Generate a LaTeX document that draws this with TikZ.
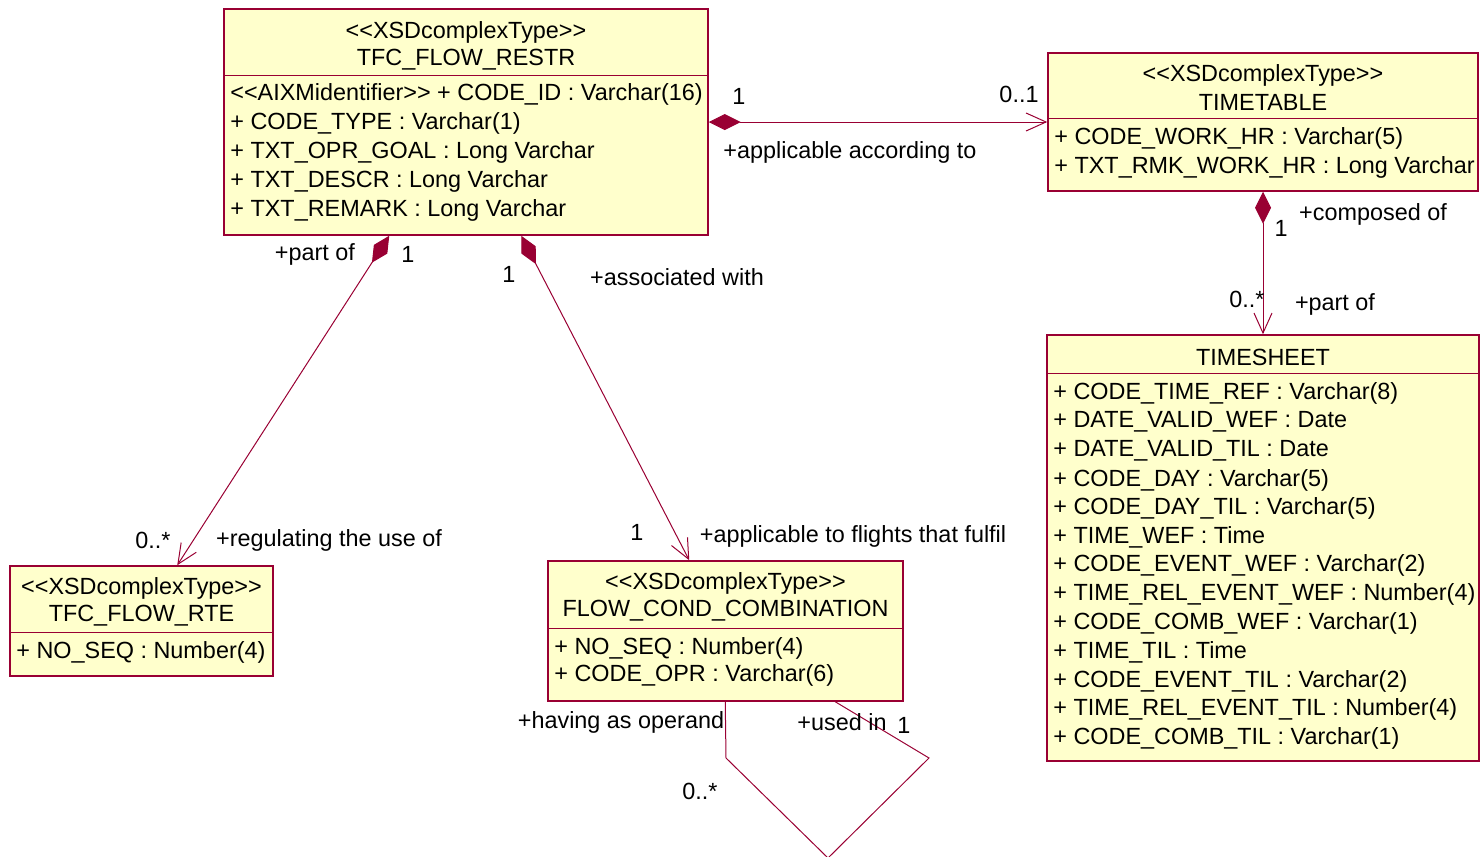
\documentclass[tikz,border=0pt]{standalone}
\usepackage{fontspec}
\setmainfont{Liberation Sans}
\usetikzlibrary{arrows.meta,calc}
\definecolor{umlred}{HTML}{990033}
\definecolor{umlfill}{HTML}{FFFFCC}
\newcommand{\stl}{<{}<}
\newcommand{\str}{>{}>}
\begin{document}
\begin{tikzpicture}[x=0.5pt,y=-0.5pt,
 every node/.style={font=\fontsize{11.7}{14}\selectfont, inner sep=0pt, text=black},
 txt/.style={yshift=-1pt},
 cls/.style={draw=umlred, fill=umlfill, line width=0.75pt, rectangle, inner sep=0pt},
 attr/.style={txt, anchor=west},
 sepline/.style={draw=umlred, line width=0.5pt},
 assoc/.style={draw=umlred, line width=0.5pt},
 comp/.style={assoc, {Diamond[length=16pt,width=8pt,fill=umlred]}-{Straight Barb[length=10pt,width=9pt]}},
 ]
\useasboundingbox (0,0) rectangle (1480,857);

% ---------- classes ----------
\node[cls, minimum width=242pt, minimum height=113pt] (restr) at (466,122) {};
\node[cls, minimum width=215pt, minimum height=69pt] (timetable) at (1263,122) {};
\node[cls, minimum width=216pt, minimum height=213pt] (timesheet) at (1263,548) {};
\node[cls, minimum width=131.5pt, minimum height=55pt] (rte) at (141.5,621) {};
\node[cls, minimum width=177.5pt, minimum height=70pt] (fcc) at (725.5,631) {};

\draw[sepline] (restr.west |- 0,75) -- (restr.east |- 0,75);
\draw[sepline] (timetable.west |- 0,118) -- (timetable.east |- 0,118);
\draw[sepline] (timesheet.west |- 0,373) -- (timesheet.east |- 0,373);
\draw[sepline] (rte.west |- 0,632) -- (rte.east |- 0,632);
\draw[sepline] (fcc.west |- 0,628) -- (fcc.east |- 0,628);

% TFC_FLOW_RESTR
\node[txt] (restrS) at (466,30) {\stl XSDcomplexType\str};
\node[txt] (restrN) at (466,58) {TFC\_FLOW\_RESTR};
\node[attr] (restrA1) at (230,92) {\stl AIXMidentifier\str{} + CODE\_ID : Varchar(16)};
\node[attr] (restrA2) at (230,121) {+ CODE\_TYPE : Varchar(1)};
\node[attr] (restrA3) at (230,150) {+ TXT\_OPR\_GOAL : Long Varchar};
\node[attr] (restrA4) at (230,179) {+ TXT\_DESCR : Long Varchar};
\node[attr] (restrA5) at (230,208) {+ TXT\_REMARK : Long Varchar};

% TIMETABLE
\node[txt] (ttS) at (1263,73) {\stl XSDcomplexType\str};
\node[txt] (ttN) at (1263,100) {TIMETABLE};
\node[attr] (ttA1) at (1054,136) {+ CODE\_WORK\_HR : Varchar(5)};
\node[attr] (ttA2) at (1054,165) {+ TXT\_RMK\_WORK\_HR : Long Varchar};

% TIMESHEET
\node[txt] (tsN) at (1263,355) {TIMESHEET};
\node[attr] (tsA1) at (1053,391) {+ CODE\_TIME\_REF : Varchar(8)};
\node[attr] (tsA2) at (1053,420) {+ DATE\_VALID\_WEF : Date};
\node[attr] (tsA3) at (1053,449) {+ DATE\_VALID\_TIL : Date};
\node[attr] (tsA4) at (1053,478) {+ CODE\_DAY : Varchar(5)};
\node[attr] (tsA5) at (1053,506) {+ CODE\_DAY\_TIL : Varchar(5)};
\node[attr] (tsA6) at (1053,535) {+ TIME\_WEF : Time};
\node[attr] (tsA7) at (1053,563) {+ CODE\_EVENT\_WEF : Varchar(2)};
\node[attr] (tsA8) at (1053,592) {+ TIME\_REL\_EVENT\_WEF : Number(4)};
\node[attr] (tsA9) at (1053,621) {+ CODE\_COMB\_WEF : Varchar(1)};
\node[attr] (tsA10) at (1053,650) {+ TIME\_TIL : Time};
\node[attr] (tsA11) at (1053,679) {+ CODE\_EVENT\_TIL : Varchar(2)};
\node[attr] (tsA12) at (1053,707) {+ TIME\_REL\_EVENT\_TIL : Number(4)};
\node[attr] (tsA13) at (1053,736) {+ CODE\_COMB\_TIL : Varchar(1)};

% TFC_FLOW_RTE
\node[txt] (rteS) at (141.5,586) {\stl XSDcomplexType\str};
\node[txt] (rteN) at (141.5,614) {TFC\_FLOW\_RTE};
\node[attr] (rteA1) at (16,650) {+ NO\_SEQ : Number(4)};

% FLOW_COND_COMBINATION
\node[txt] (fccS) at (725.5,581) {\stl XSDcomplexType\str};
\node[txt] (fccN) at (725.5,609) {FLOW\_COND\_COMBINATION};
\node[attr] (fccA1) at (554,646) {+ NO\_SEQ : Number(4)};
\node[attr] (fccA2) at (554,673) {+ CODE\_OPR : Varchar(6)};

% ---------- connectors ----------
\draw[comp] (restr.east) -- (timetable.west);
\draw[comp] (timetable.south) -- (timesheet.north);
\draw[comp] ($(restr.south west)+(166,0)$) -- ($(rte.north west)+(168,0)$);
\draw[comp] ($(restr.south west)+(298,0)$) -- ($(fcc.north west)+(142,0)$);

\coordinate (loopA) at (726,758);
\coordinate (loopB) at (828,858);
\coordinate (loopC) at (929,758);
\draw[assoc] ($(fcc.south west)+(178,0)$) -- (loopA) -- (loopB) -- (loopC) -- ($(fcc.south west)+(288,0)$);

% ---------- labels ----------
\node[txt] (l1) at (739,94) {1};
\node[txt] (l2) at (1019,92) {0..1};
\node[txt] (l3) at (850,150) {+applicable according to};
\node[txt] (l4) at (1281,226) {1};
\node[txt] (l5) at (1373,212) {+composed of};
\node[txt] (l6) at (1247,297) {0..*};
\node[txt] (l7) at (1335,302) {+part of};
\node[txt] (l8) at (315,252) {+part of};
\node[txt] (l9) at (408,252) {1};
\node[txt] (l10) at (153,538) {0..*};
\node[txt] (l11) at (329,538) {+regulating the use of};
\node[txt] (l12) at (509,272) {1};
\node[txt] (l13) at (677,275) {+associated with};
\node[txt] (l14) at (637,530) {1};
\node[txt] (l15) at (853,534) {+applicable to flights that fulfil};
\node[txt] (l16) at (621,720) {+having as operand};
\node[txt] (l17) at (842,720) {+used in};
\node[txt] (l18) at (904,723) {1};
\node[txt] (l19) at (700,789) {0..*};
\end{tikzpicture}
\end{document}
